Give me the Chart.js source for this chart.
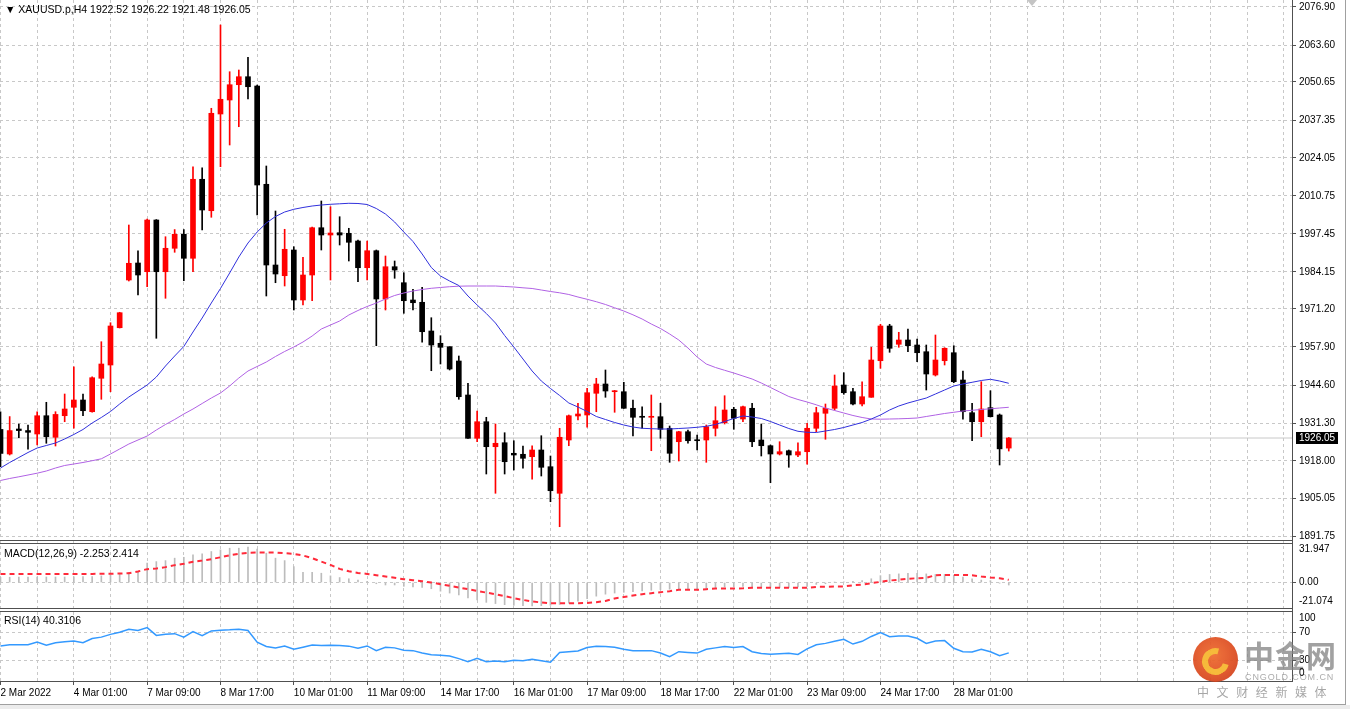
<!DOCTYPE html>
<html>
<head>
<meta charset="utf-8">
<title>XAUUSD.p,H4</title>
<script src="https://cdn.jsdelivr.net/npm/chart.js@4.4.1/dist/chart.umd.min.js"></script>
<style>
  html, body { margin: 0; padding: 0; background: #fff; }
  #frame { position: relative; width: 1345px; height: 704px; border-right: 1px solid #a0a0a0; border-bottom: 1px solid #a0a0a0; overflow: hidden; background: #fff; }
  #bottomstrip { position: absolute; left: 0; top: 705px; width: 1350px; height: 4px; background: #ececec; }
  canvas { position: absolute; left: 0; top: 0; }
  .lbl { position: absolute; font: 10px 'Liberation Sans', Arial, sans-serif; color: #000; white-space: nowrap; line-height: 12px; }
  .title { font-size: 10.5px; }
  .pricebox { background: #000; color: #fff; padding: 0 3px; line-height: 12px; }
  #marker { position: absolute; left: 1027px; top: 0; width: 0; height: 0; border-left: 5px solid transparent; border-right: 5px solid transparent; border-top: 6px solid #c4c4c4; }
  #wm-logo { position: absolute; left: 1193px; top: 637px; width: 45px; height: 45px; border-radius: 50%; background: radial-gradient(circle at 45% 40%, #ef6a2c 0%, #dc4a1e 60%, #c5351a 100%); opacity: 0.92; }
  #wm-logo .swirl { position: absolute; left: 9px; top: 11px; width: 15px; height: 15px; border: 6px solid #f6b52b; border-radius: 50%; border-right-color: transparent; transform: rotate(-30deg); }
  #wm-cn { position: absolute; left: 1244px; top: 632px; font: 700 30px 'Noto Sans CJK SC', sans-serif; color: rgba(130,130,130,0.75); letter-spacing: 1px; }
  #wm-en { position: absolute; left: 1245px; top: 672px; font: 9px 'Liberation Sans', Arial, sans-serif; color: rgba(150,150,150,0.8); letter-spacing: 0.9px; }
  #wm-sub { position: absolute; left: 1197px; top: 683px; font: 12px 'Noto Sans CJK SC', sans-serif; color: rgba(150,150,150,0.85); letter-spacing: 7.6px; }
</style>
</head>
<body>
<div id="frame">
  <canvas id="chart" width="1345" height="704"></canvas>
  <div id="marker"></div>
  <div id="wm-logo"><div class="swirl"></div></div>
  <div id="wm-cn">中金网</div>
  <div id="wm-en">CNGOLD.COM.CN</div>
  <div id="wm-sub">中文财经新媒体</div>
</div>
<div id="bottomstrip"></div>
<script>
// XAUUSD.p H4 candles (index 0 = first visible bar)
const dateLabels = ['2 Mar 2022', '4 Mar 01:00', '7 Mar 09:00', '8 Mar 17:00', '10 Mar 01:00',
  '11 Mar 09:00', '14 Mar 17:00', '16 Mar 01:00', '17 Mar 09:00', '18 Mar 17:00',
  '22 Mar 01:00', '23 Mar 09:00', '24 Mar 17:00', '28 Mar 01:00'];

const priceTicks = [2076.90, 2063.60, 2050.65, 2037.35, 2024.05, 2010.75, 1997.45, 1984.15,
  1971.20, 1957.90, 1944.60, 1931.30, 1918.00, 1905.05, 1891.75];

const open = [1929.05,1920.45,1929.2,1928.65,1927.45,1933.85,1926.3,1933.85,1936.8,1939.35,
  1935.25,1946.95,1951.6,1964.65,1981.35,1987.3,1984.25,2002.35,1984.25,1992.45,
  1997.35,1988.95,2016.6,2005.6,2039.45,2044.35,2049.7,2052.5,2049.25,2014.85,
  1986.6,1982.85,1991.85,1974.35,1983.1,1999.65,1997.1,1997.9,1997.7,1995.0,
  1985.65,1991.6,1974.7,1986.0,1980.4,1974.35,1973.55,1963.5,1959.2,1958.0,
  1953.0,1941.1,1925.95,1931.75,1923.0,1924.4,1920.7,1920.35,1919.5,1921.85,
  1916.0,1906.7,1925.35,1933.75,1934.1,1941.7,1944.95,1942.25,1942.25,1936.45,
  1933.5,1933.3,1933.5,1929.45,1924.75,1928.25,1925.35,1925.35,1929.45,1931.4,
  1936.1,1932.7,1936.45,1925.35,1923.35,1920.45,1921.6,1920.1,1921.25,1929.45,
  1934.7,1936.45,1944.6,1942.25,1937.95,1940.3,1953.1,1965.25,1958.85,1960.35,
  1958.6,1956.25,1948.1,1953.1,1955.9,1946.35,1934.9,1931.75,1936.65,1934.1,
  1922.52];

const high = [1935.25,1933.55,1930.95,1930.6,1935.25,1938.55,1935.25,1941.45,1951.0,1941.45,
  1947.5,1959.75,1966.4,1970.05,2000.6,1991.6,2002.7,2002.5,1996.5,1999.0,
  1999.0,2021.0,2020.65,2041.45,2070.6,2054.25,2054.85,2059.3,2049.6,2021.25,
  2005.5,1999.1,1993.0,1989.3,1999.9,2009.0,2007.0,2003.5,1999.45,1995.35,
  1995.0,1991.85,1989.75,1988.0,1983.9,1978.1,1978.8,1968.15,1961.85,1958.0,
  1954.75,1945.2,1935.5,1933.3,1930.95,1927.9,1925.1,1923.25,1923.35,1926.85,
  1919.75,1929.45,1934.1,1938.2,1943.45,1946.95,1949.85,1942.7,1945.55,1939.35,
  1937.0,1941.1,1938.2,1930.25,1928.4,1928.85,1927.1,1930.6,1937.0,1940.85,
  1936.8,1937.25,1938.2,1930.95,1923.6,1924.75,1921.85,1924.4,1931.2,1936.8,
  1937.95,1948.1,1948.9,1943.45,1945.75,1957.8,1965.85,1965.85,1963.05,1964.2,
  1960.7,1958.6,1962.1,1957.65,1958.35,1949.5,1938.2,1945.75,1942.6,1934.45,
  1926.22];

const low = [1916.05,1920.1,1926.15,1922.1,1923.6,1924.2,1923.25,1931.75,1929.45,1933.85,
  1935.1,1939.6,1942.25,1964.55,1981.0,1976.1,1979.0,1960.95,1974.95,1991.05,
  1981.1,1984.25,1998.85,2003.3,2021.0,2028.6,2035.0,2044.7,2004.1,1975.75,
  1980.4,1979.25,1970.85,1972.6,1974.1,1991.85,1981.35,1993.6,1988.0,1980.75,
  1981.35,1958.35,1970.85,1981.95,1969.7,1970.85,1959.55,1949.6,1951.95,1949.85,
  1939.6,1925.9,1924.75,1913.45,1906.7,1913.45,1914.85,1915.45,1911.6,1912.75,
  1903.75,1895.0,1923.35,1932.35,1929.8,1935.25,1940.3,1935.05,1936.4,1926.75,
  1929.45,1921.6,1925.95,1917.55,1918.0,1924.2,1921.85,1917.55,1926.75,1930.95,
  1929.1,1931.75,1923.0,1919.75,1910.4,1920.1,1915.8,1919.5,1916.85,1928.25,
  1925.6,1935.85,1941.35,1937.6,1937.25,1940.3,1950.45,1956.05,1957.8,1956.25,
  1952.75,1942.85,1947.75,1951.6,1945.4,1932.6,1925.1,1926.5,1933.4,1916.6,
  1921.48];

const close = [1920.65,1928.65,1928.65,1928.05,1933.85,1926.5,1934.3,1936.2,1939.35,1935.6,
  1947.15,1951.95,1965.25,1969.9,1987.2,1983.1,2002.35,1984.25,1992.45,1997.35,
  1988.95,2016.6,2005.85,2039.7,2044.6,2049.7,2052.5,2049.0,2014.6,1986.6,
  1983.45,1992.1,1974.35,1983.1,1999.65,1997.1,1997.8,1997.1,1994.55,1985.65,
  1991.6,1974.7,1986.0,1984.85,1974.1,1973.4,1963.25,1958.6,1957.8,1950.2,
  1940.5,1925.95,1931.75,1923.0,1924.2,1917.75,1920.1,1918.95,1921.85,1915.8,
  1907.6,1926.3,1933.85,1934.45,1941.9,1944.95,1942.5,1942.6,1936.45,1933.3,
  1933.3,1933.6,1929.1,1920.7,1928.25,1925.1,1925.1,1930.0,1932.1,1935.85,
  1932.95,1937.0,1924.75,1923.35,1920.45,1921.25,1920.1,1921.25,1929.45,1934.9,
  1936.45,1944.25,1941.9,1937.95,1940.5,1953.35,1965.25,1957.45,1960.35,1958.35,
  1955.9,1948.45,1953.35,1957.45,1945.75,1935.25,1931.75,1936.2,1933.5,1922.25,
  1926.05];

// moving averages drawn on the price pane
const maFast = [1915.55,1917.48,1919.23,1920.98,1922.55,1923.43,1924.3,1925.7,1927.28,1929.03,
  1931.3,1933.23,1935.33,1937.95,1940.4,1942.5,1944.6,1947.4,1951.25,1954.75,
  1958.08,1963.15,1968.05,1973.3,1978.38,1983.8,1989.4,1994.3,1998.15,2001.3,
  2003.58,2005.15,2006.1,2006.73,2007.25,2007.6,2007.85,2008.02,2008.2,2008.13,
  2007.78,2006.38,2004.45,2001.65,1998.15,1994.83,1990.45,1985.73,1982.75,1981.0,
  1979.43,1975.75,1972.6,1969.63,1966.3,1961.93,1957.9,1953.7,1949.5,1946.0,
  1943.38,1940.93,1938.3,1936.9,1935.33,1933.58,1932.53,1931.48,1930.6,1929.9,
  1929.45,1929.3,1929.2,1929.2,1929.38,1929.55,1929.8,1930.15,1930.78,1931.83,
  1932.88,1933.75,1933.4,1932.88,1931.83,1930.6,1929.38,1928.4,1928.05,1927.98,
  1928.5,1929.03,1929.73,1930.6,1931.48,1932.7,1934.1,1935.85,1937.25,1938.3,
  1939.18,1940.05,1941.45,1942.85,1944.25,1944.95,1945.55,1946.18,1946.6,1946.0,
  1945.2];

const maSlow = [1911.18,1911.88,1912.47,1913.1,1913.73,1914.5,1915.55,1916.43,1916.95,1917.48,
  1918.1,1918.77,1920.45,1922.2,1923.95,1925.35,1926.75,1928.85,1930.78,1932.53,
  1934.45,1936.2,1938.13,1940.05,1941.8,1944.25,1947.05,1949.5,1951.08,1952.65,
  1954.58,1956.33,1957.9,1959.65,1961.75,1964.2,1965.6,1967.0,1969.1,1970.68,
  1972.08,1973.3,1974.7,1975.93,1976.8,1977.5,1978.03,1978.45,1978.73,1979.0,
  1979.18,1979.25,1979.25,1979.25,1979.25,1979.08,1978.9,1978.62,1978.38,1977.85,
  1977.33,1976.87,1976.28,1975.4,1974.6,1973.75,1972.78,1971.62,1970.5,1969.17,
  1967.7,1965.95,1964.38,1962.45,1960.35,1957.55,1954.4,1951.95,1950.73,1949.75,
  1948.8,1947.75,1946.7,1945.3,1943.73,1942.15,1940.58,1939.53,1938.65,1937.67,
  1936.55,1935.68,1934.8,1933.93,1933.23,1932.7,1932.63,1932.7,1932.77,1932.88,
  1933.05,1933.58,1934.1,1934.63,1935.05,1935.5,1935.75,1936.03,1936.27,1936.55,
  1936.8];

// MACD(12,26,9): histogram (main) and signal
const macdMain = [4.8,4.8,4.9,4.9,4.9,5.0,5.0,5.0,5.1,5.4,
  5.4,6.0,6.9,8.4,9.1,10.0,17.5,18.9,19.8,22.0,
  22.8,25.0,25.9,28.0,29.5,31.0,31.0,31.947,30.1,26.5,
  22.0,19.8,14.4,9.1,9.1,8.4,6.0,4.5,3.4,2.2,
  1.1,-1.1,-2.2,-2.2,-3.4,-3.9,-4.5,-5.6,-7.8,-9.5,
  -11.2,-14.0,-15.7,-17.9,-19.0,-20.0,-20.6,-20.8,-21.074,-20.9,
  -20.6,-19.8,-18.6,-16.8,-14.6,-12.3,-10.5,-9.5,-8.8,-8.2,
  -7.6,-7.0,-6.4,-6.0,-6.0,-5.6,-5.6,-5.0,-4.5,-3.9,
  -3.9,-3.4,-3.9,-4.5,-4.5,-4.5,-4.5,-3.9,-3.4,-1.7,
  -1.1,0.2,0.6,1.1,1.7,3.4,6.2,7.3,7.8,8.4,
  8.4,7.8,7.3,7.3,6.7,5.0,3.4,2.2,1.7,-0.6,
  -2.253];

const macdSignal = [7.6,7.6,7.7,7.7,7.7,7.8,7.8,7.8,7.8,7.8,
  7.8,7.9,7.9,8.2,8.4,10.0,12.1,12.7,13.9,15.7,
  16.9,18.7,19.8,21.1,22.8,24.6,25.9,26.8,27.1,27.1,
  27.1,26.5,25.9,24.4,22.0,18.9,15.9,12.3,10.2,8.7,
  7.8,6.6,5.4,4.3,3.0,2.1,1.2,0.0,-1.5,-3.0,
  -4.5,-6.0,-7.5,-9.1,-10.5,-12.3,-14.1,-15.7,-17.1,-18.0,
  -18.7,-18.7,-18.7,-18.7,-18.4,-17.8,-16.6,-14.4,-13.0,-11.8,
  -10.5,-9.6,-8.7,-7.8,-6.6,-6.6,-6.6,-6.0,-5.4,-5.4,
  -5.4,-5.2,-4.8,-4.8,-4.8,-4.8,-4.8,-4.8,-4.8,-3.9,
  -3.9,-3.6,-3.6,-2.5,-1.8,-0.6,0.6,1.8,2.5,3.4,
  3.9,4.3,6.6,6.9,6.9,6.9,6.6,5.4,4.5,3.9,
  2.414];

// RSI(14)
const rsi = [50.3,52,52,52,56,51.5,55,56.5,57.5,55,
  61,63,67,70,74.5,72.5,76.7,65.5,67,68,
  63,71,65,72,73,73.5,74.5,72.5,55.6,49.5,
  47.5,50.3,45.5,48.5,51.7,51.0,51.3,51.0,50.0,47,
  50.3,43.5,48.4,47.5,44,43.5,40,37.5,37,35.8,
  32,27.6,32.5,27.6,28.6,27.6,29.5,28.8,31,29,
  26.7,41,42,43,48,50,49.5,48.4,45.5,43.5,
  43.5,43.5,40,34.8,42,41,40,45.5,47.5,49.5,
  48,49.3,42,39.5,38.3,39,39.7,38,46,52,
  54,57,60,53,57,64,69.5,63.7,64.5,64.5,
  61.4,54,57.5,58,47,42,41.5,45.5,42,36.3,
  40.3106];
const rsiLevels = [70, 30];

(function () {
  const BULL = '#ff0000';
  const BEAR = '#000000';
  const GRID = '#c8c8c8';
  const FRAME = '#505050';

  const n = close.length;
  const idx = close.map((_, i) => i);
  const candleColor = idx.map(i => close[i] >= open[i] ? BULL : BEAR);
  const last = close[n - 1];

  // visible bar slots: 111 bars plus the empty shift area up to the price scale
  const X_MIN = -0.055, X_MAX = 140.9;
  // pane ranges (price pane 541px, MACD 68px, RSI 72px)
  const Y_MIN = 1890.0, Y_MAX = 2079.35;
  const MACD_MIN = -23.9, MACD_MAX = 37.5;
  const RSI_MIN = -0.3, RSI_MAX = 103.6;

  const pts = arr => idx.map(i => ({ x: i, y: arr[i] }));

  function noPad(s) {
    s.paddingTop = 0; s.paddingBottom = 0; s.paddingLeft = 0; s.paddingRight = 0;
  }

  Chart.defaults.font.family = "'Liberation Sans', Arial, sans-serif";
  Chart.defaults.font.size = 10;
  Chart.defaults.color = '#000';

  // double frame lines between the panes
  const paneFrames = {
    id: 'paneFrames',
    afterDatasetsDraw(chart) {
      const { ctx, chartArea } = chart;
      const m = chart.scales.yMacd, r = chart.scales.yRsi, p = chart.scales.y;
      ctx.save();
      ctx.strokeStyle = FRAME;
      ctx.lineWidth = 1;
      [p.bottom - 1.5, m.top + 1.5, m.bottom - 1.5, r.top + 1.5].forEach(y => {
        ctx.beginPath();
        ctx.moveTo(chartArea.left, Math.round(y) + 0.5);
        ctx.lineTo(chartArea.right, Math.round(y) + 0.5);
        ctx.stroke();
      });
      ctx.restore();
    }
  };

  // text overlays: titles, clamped indicator scale labels, current price box
  const overlays = {
    id: 'overlays',
    afterRender(chart) {
      if (chart._overlaysDone) return;
      chart._overlaysDone = true;
      const frame = document.getElementById('frame');
      const put = (text, x, yMid, cls) => {
        const d = document.createElement('div');
        d.className = 'lbl' + (cls ? ' ' + cls : '');
        d.textContent = text;
        d.style.left = x + 'px';
        d.style.top = Math.round(yMid - 6) + 'px';
        frame.appendChild(d);
        return d;
      };
      const sy = chart.scales.y, sm = chart.scales.yMacd, sr = chart.scales.yRsi;
      const clampMid = (s, v) => Math.min(Math.max(s.getPixelForValue(v), s.top + 8), s.bottom - 8);
      const axisX = sy.left + 7;

      const mMax = Math.max(...macdMain, ...macdSignal);
      const mMin = Math.min(...macdMain, ...macdSignal);
      put(mMax.toFixed(3), axisX, clampMid(sm, mMax));
      put(mMin.toFixed(3), axisX, clampMid(sm, mMin));
      put('100', axisX, clampMid(sr, 100) + 1);
      put('0', axisX, clampMid(sr, 0));

      put(last.toFixed(2), sy.left + 4, sy.getPixelForValue(last), 'pricebox');

      const f = v => v.toFixed(2);
      put('\u25BC  XAUUSD.p,H4  ' + f(open[n - 1]) + ' ' + f(high[n - 1]) + ' ' + f(low[n - 1]) + ' ' + f(last),
        5, 9, 'title');
      put('MACD(12,26,9) ' + macdMain[n - 1].toFixed(3) + ' ' + macdSignal[n - 1].toFixed(3), 4, sm.top + 12, 'title');
      put('RSI(14) ' + rsi[n - 1].toFixed(4), 4, sr.top + 11, 'title');
    }
  };

  new Chart(document.getElementById('chart'), {
    type: 'bar',
    data: {
      datasets: [
        { type: 'line', label: 'MA fast', data: pts(maFast), yAxisID: 'y', borderColor: '#3030dc', borderWidth: 1, pointRadius: 0, order: 0 },
        { type: 'line', label: 'MA slow', data: pts(maSlow), yAxisID: 'y', borderColor: '#b062e4', borderWidth: 1, pointRadius: 0, order: 1 },
        { type: 'bar', label: 'Body', data: idx.map(i => ({ x: i, y: [open[i], close[i]] })), yAxisID: 'y',
          backgroundColor: candleColor, barThickness: 5, minBarLength: 1, grouped: false, order: 2 },
        { type: 'bar', label: 'Wick', data: idx.map(i => ({ x: i, y: [low[i], high[i]] })), yAxisID: 'y',
          backgroundColor: candleColor, barThickness: 1, grouped: false, order: 3 },
        { type: 'line', label: 'Last', data: [{ x: X_MIN, y: last }, { x: X_MAX, y: last }], yAxisID: 'y',
          borderColor: '#c8c8c8', borderWidth: 1, pointRadius: 0, order: 4 },
        { type: 'line', label: 'Signal', data: pts(macdSignal), yAxisID: 'yMacd', borderColor: '#ff2a3a', borderWidth: 2,
          borderDash: [5, 4], pointRadius: 0, order: 5 },
        { type: 'bar', label: 'MACD', data: pts(macdMain), yAxisID: 'yMacd', backgroundColor: '#bcbcbc',
          barThickness: 1, grouped: false, order: 6 },
        { type: 'line', label: 'RSI', data: pts(rsi), yAxisID: 'yRsi', borderColor: '#3399ff', borderWidth: 1.5,
          pointRadius: 0, order: 5 }
      ]
    },
    options: {
      responsive: false,
      animation: false,
      devicePixelRatio: 1,
      layout: { padding: 0, autoPadding: false },
      plugins: { legend: { display: false }, tooltip: { enabled: false } },
      scales: {
        x: {
          type: 'linear', min: X_MIN, max: X_MAX, offset: false,
          afterBuildTicks: s => { const t = []; for (let v = 0; v <= X_MAX; v += 4) t.push({ value: v }); s.ticks = t; },
          ticks: {
            autoSkip: false, maxRotation: 0, minRotation: 0, align: 'start', padding: 2,
            callback: v => (v % 8 === 0 && dateLabels[v / 8]) ? dateLabels[v / 8] : ''
          },
          grid: {
            color: GRID, offset: false, tickLength: 4,
            tickColor: c => (c.tick && c.tick.value % 8 === 0 && dateLabels[c.tick.value / 8]) ? FRAME : 'rgba(0,0,0,0)'
          },
          border: { color: FRAME, dash: [3, 3] },
          afterFit: s => { s.height = 23; noPad(s); }
        },
        y: {
          position: 'right', stack: 'panes', stackWeight: 541, min: Y_MIN, max: Y_MAX,
          afterBuildTicks: s => { s.ticks = priceTicks.map(v => ({ value: v })); },
          ticks: { autoSkip: false, padding: 3, callback: v => Number(v).toFixed(2) },
          grid: { color: GRID, tickLength: 4, tickColor: FRAME },
          border: { color: FRAME, dash: [3, 3] },
          afterFit: s => { s.width = 53; noPad(s); }
        },
        yMacd: {
          position: 'right', stack: 'panes', stackWeight: 68, min: MACD_MIN, max: MACD_MAX,
          afterBuildTicks: s => { s.ticks = [{ value: 0 }]; },
          ticks: { autoSkip: false, padding: 3, callback: v => Number(v).toFixed(2) },
          grid: { color: GRID, tickLength: 4, tickColor: FRAME },
          border: { color: FRAME, dash: [3, 3] },
          afterFit: s => { s.width = 53; noPad(s); }
        },
        yRsi: {
          position: 'right', stack: 'panes', stackWeight: 72, min: RSI_MIN, max: RSI_MAX,
          afterBuildTicks: s => { s.ticks = rsiLevels.map(v => ({ value: v })); },
          ticks: { autoSkip: false, padding: 3, callback: v => String(v) },
          grid: { color: GRID, tickLength: 4, tickColor: FRAME },
          border: { color: FRAME, dash: [3, 3] },
          afterFit: s => { s.width = 53; noPad(s); }
        }
      }
    },
    plugins: [paneFrames, overlays]
  });
})();
</script>
</body>
</html>
